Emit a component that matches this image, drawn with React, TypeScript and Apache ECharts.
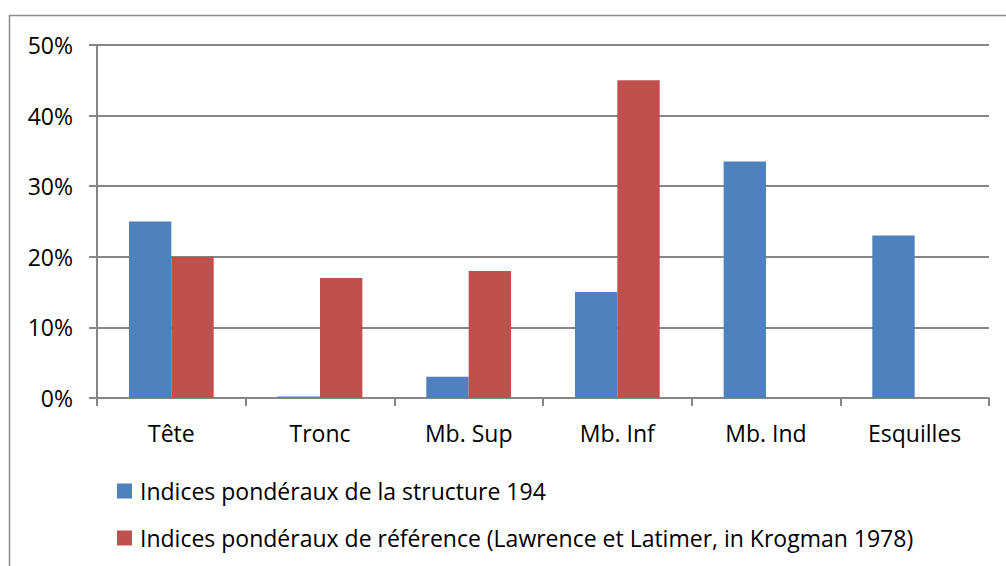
import React, { useEffect, useRef } from "react";
import * as echarts from "echarts";

const categories = ["Tête", "Tronc", "Mb. Sup", "Mb. Inf", "Mb. Ind", "Esquilles"];
const structure194 = [25, 0.2, 3, 15, 33.5, 23];
const reference = [20, 17, 18, 45, 0, 0];
const seriesNames = [
  "Indices pondéraux de la structure 194",
  "Indices pondéraux de référence (Lawrence et Latimer, in Krogman 1978)",
];

const FONT = "Open Sans";
const FS = 23;

export default function App() {
  const ref = useRef<HTMLDivElement>(null);
  useEffect(() => {
    const chart = echarts.init(ref.current!, null, { renderer: "svg" });
    chart.setOption({
      animation: false,
      backgroundColor: "#ffffff",
      textStyle: { fontFamily: FONT },
      graphic: [
        {
          type: "rect",
          shape: { x: 9.5, y: 15.5, width: 1100, height: 700 },
          style: { fill: "none", stroke: "#8c8c8c", lineWidth: 1.5 },
          silent: true,
        },
      ],
      grid: { left: 97, right: 17, top: 45, bottom: 168 },
      legend: {
        orient: "vertical",
        left: 112,
        top: 473,
        itemWidth: 15,
        itemHeight: 15,
        itemGap: 21,
        icon: "rect",
        textStyle: { fontFamily: FONT, fontSize: FS, color: "#000", lineHeight: 26, padding: [0, 0, 0, 3] },
        data: seriesNames,
      },
      xAxis: {
        type: "category",
        data: categories,
        axisLine: { lineStyle: { color: "#868686", width: 2 } },
        axisTick: { show: true, length: 8, lineStyle: { color: "#868686", width: 2 } },
        axisLabel: { fontFamily: FONT, fontSize: FS, color: "#000", margin: 23 },
      },
      yAxis: {
        type: "value",
        min: 0,
        max: 50,
        interval: 10,
        axisLine: { show: true, lineStyle: { color: "#868686", width: 2 } },
        axisTick: { show: true, length: 8, lineStyle: { color: "#868686", width: 2 } },
        splitLine: { lineStyle: { color: "#868686", width: 2 } },
        axisLabel: { fontFamily: FONT, fontSize: FS, color: "#000", margin: 24, formatter: "{value}%" },
      },
      series: [
        {
          name: seriesNames[0],
          type: "bar",
          data: structure194,
          itemStyle: { color: "#4f81bd" },
          barGap: "0%",
          barCategoryGap: "43%",
        },
        {
          name: seriesNames[1],
          type: "bar",
          data: reference,
          itemStyle: { color: "#c0504d" },
          barGap: "0%",
          barCategoryGap: "43%",
        },
      ],
    });
    return () => chart.dispose();
  }, []);
  return (
    <div
      ref={ref}
      style={{ position: "fixed", left: 0, top: 0, width: 1006, height: 566 }}
    />
  );
}
